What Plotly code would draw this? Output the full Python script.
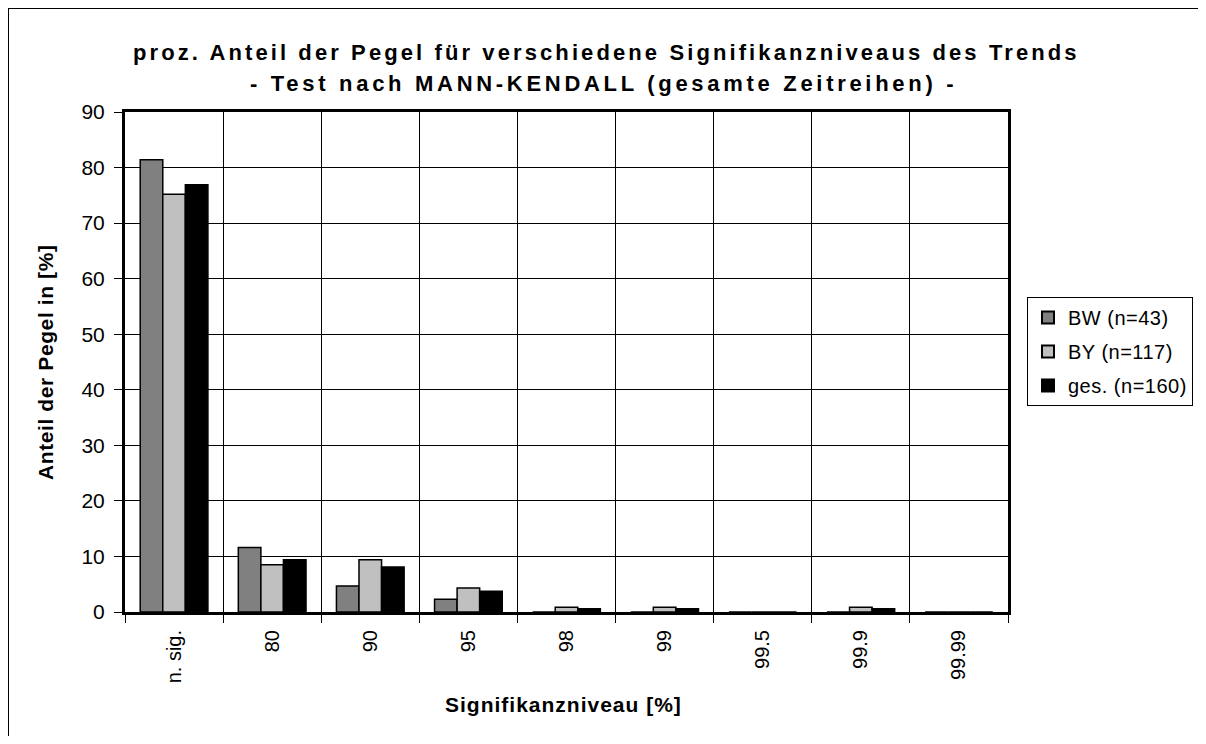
import plotly.graph_objects as go

categories = ["n. sig.", "80", "90", "95", "98", "99", "99.5", "99.9", "99.99"]
bw_values = [81.4, 11.6, 4.7, 2.3, 0.0, 0.0, 0.0, 0.0, 0.0]
by_values = [75.2, 8.5, 9.4, 4.3, 0.85, 0.85, 0.0, 0.85, 0.0]
ges_values = [76.9, 9.4, 8.1, 3.75, 0.6, 0.6, 0.0, 0.6, 0.0]
series_names = ["BW (n=43)", "BY (n=117)", "ges. (n=160)"]
series_colors = ["#808080", "#C0C0C0", "#000000"]
y_ticks = [0, 10, 20, 30, 40, 50, 60, 70, 80, 90]

# page body has 8px default margin -> work in figure coords (page - 8)
OFF = 8
W, H = 1206 - 2 * OFF, 744 - 2 * OFF
L, R, T, B = 125 - OFF, 1008 - OFF, 112 - OFF, 612 - OFF
pw, ph = R - L, B - T

def px_x(x):
    return (x - OFF - L) / pw

def px_y(y):
    return (B - (y - OFF)) / ph

FONT = "Arial, Liberation Sans, sans-serif"

def spaced(txt, sp):
    return f'<span style="letter-spacing:{sp}px">{txt}</span>'

fig = go.Figure()
for name, vals, col in zip(series_names, [bw_values, by_values, ges_values], series_colors):
    fig.add_trace(go.Bar(
        x=categories, y=vals, name=spaced(name, 0.5), legendgroup=name,
        marker=dict(color=col, line=dict(color="black", width=1.5)),
    ))

fig.update_layout(
    width=W, height=H,
    margin=dict(l=L, r=W - R, t=T, b=H - B, pad=0, autoexpand=False),
    paper_bgcolor="white", plot_bgcolor="white",
    barmode="group", bargap=0.31, bargroupgap=0,
    font=dict(family=FONT, color="black", size=20),
    showlegend=True,
    legend=dict(
        x=px_x(1027), y=px_y(297), xanchor="left", yanchor="top",
        bordercolor="black", borderwidth=1, bgcolor="white",
        font=dict(size=20, family=FONT), itemsizing="constant",
        tracegroupgap=5, itemwidth=30,
    ),
    xaxis=dict(
        type="category", tickson="boundaries",
        showgrid=True, gridcolor="black", gridwidth=1,
        ticks="outside", ticklen=8, tickcolor="black", tickwidth=1,
        tickangle=-90, tickfont=dict(size=20, family=FONT),
        showline=True, linecolor="black", linewidth=3, mirror=True,
        ticklabelstandoff=7,
    ),
    yaxis=dict(
        range=[0, 90], tickvals=y_ticks,
        showgrid=True, gridcolor="black", gridwidth=1,
        ticks="outside", ticklen=8, tickcolor="black", tickwidth=1,
        tickfont=dict(size=21, family=FONT),
        showline=True, linecolor="black", linewidth=3, mirror=True,
        zeroline=False, ticklabelstandoff=5,
    ),
    annotations=[
        dict(text="<b>" + spaced("proz. Anteil der Pegel für verschiedene Signifikanzniveaus des Trends", 3.1) + "</b>",
             xref="paper", yref="paper", x=px_x(606), y=px_y(53),
             xanchor="center", yanchor="middle", showarrow=False,
             font=dict(size=22, family=FONT)),
        dict(text="<b>" + spaced("- Test nach MANN-KENDALL (gesamte Zeitreihen) -", 3.7) + "</b>",
             xref="paper", yref="paper", x=px_x(603), y=px_y(84),
             xanchor="center", yanchor="middle", showarrow=False,
             font=dict(size=22, family=FONT)),
        dict(text="<b>" + spaced("Anteil der Pegel in [%]", 0.6) + "</b>",
             xref="paper", yref="paper", x=px_x(45), y=px_y(362),
             xanchor="center", yanchor="middle", showarrow=False, textangle=-90,
             font=dict(size=21, family=FONT)),
        dict(text="<b>" + spaced("Signifikanzniveau [%]", 1.0) + "</b>",
             xref="paper", yref="paper", x=px_x(563), y=px_y(704),
             xanchor="center", yanchor="middle", showarrow=False,
             font=dict(size=21, family=FONT)),
    ],
    shapes=[
        dict(type="rect", xref="paper", yref="paper",
             x0=px_x(7), x1=px_x(1220), y0=px_y(760), y1=px_y(7),
             line=dict(color="black", width=4), layer="below"),
    ],
)

fig.write_html("out.html")
